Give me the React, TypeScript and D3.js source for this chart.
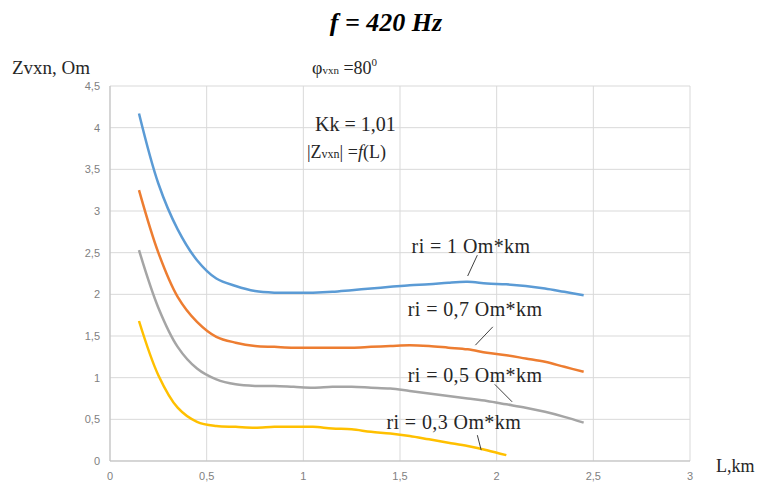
import React from "react";
import * as d3 from "d3";

const width = 760;
const height = 484;
const margin = { top: 86, right: 70, bottom: 23, left: 110 };

const lengths = [
  0.15, 0.25, 0.35, 0.45, 0.55, 0.65, 0.75, 0.85, 0.95, 1.05, 1.15, 1.25,
  1.35, 1.45, 1.55, 1.65, 1.75, 1.85, 1.95, 2.05, 2.15, 2.25, 2.35, 2.45,
];

const ri1 = [
  4.17, 3.33, 2.78, 2.41, 2.19, 2.1, 2.04, 2.02, 2.02, 2.02, 2.03, 2.05, 2.07,
  2.09, 2.11, 2.12, 2.14, 2.15, 2.13, 2.12, 2.1, 2.07, 2.03, 1.99,
];
const ri07 = [
  3.25, 2.5, 1.97, 1.67, 1.49, 1.42, 1.38, 1.37, 1.36, 1.36, 1.36, 1.36, 1.37,
  1.38, 1.39, 1.38, 1.36, 1.34, 1.3, 1.27, 1.23, 1.19, 1.13, 1.07,
];
const ri05 = [
  2.53, 1.84, 1.37, 1.11, 0.98, 0.92, 0.9, 0.9, 0.89, 0.88, 0.89, 0.89, 0.88,
  0.87, 0.84, 0.81, 0.78, 0.75, 0.72, 0.68, 0.64, 0.59, 0.53, 0.46,
];
const ri03 = [
  1.68, 1.03, 0.64, 0.47, 0.42, 0.41, 0.4, 0.41, 0.41, 0.41, 0.39, 0.38, 0.35,
  0.33, 0.3, 0.26, 0.22, 0.18, 0.13, 0.07,
];

const xTicks = [0, 0.5, 1, 1.5, 2, 2.5, 3];
const yTicks = [0, 0.5, 1, 1.5, 2, 2.5, 3, 3.5, 4, 4.5];

// label text, anchor [x, y], leader from/to, all in data units
const series = [
  { name: "ri = 1 Om*km", values: ri1, color: "#5b9bd5", label: [1.56, 2.5], leader: [[1.9, 2.47], [1.85, 2.22]] },
  { name: "ri = 0,7 Om*km", values: ri07, color: "#ed7d31", label: [1.54, 1.74], leader: [[1.98, 1.61], [1.89, 1.39]] },
  { name: "ri = 0,5 Om*km", values: ri05, color: "#a5a5a5", label: [1.54, 0.95], leader: [[1.99, 0.92], [2.08, 0.71]] },
  { name: "ri = 0,3 Om*km", values: ri03, color: "#ffc000", label: [1.43, 0.38], leader: [[1.9, 0.31], [1.92, 0.13]] },
];

const fmt = (d: number) => String(d).replace(".", ",");

export default function App() {
  const x = d3.scaleLinear().domain([0, 3]).range([margin.left, width - margin.right]);
  const y = d3.scaleLinear().domain([0, 4.5]).range([height - margin.bottom, margin.top]);

  const line = d3
    .line<number>()
    .x((_, i) => x(lengths[i]))
    .y((d) => y(d))
    .curve(d3.curveCatmullRom.alpha(0.5));

  const serif = "'Liberation Serif', 'Times New Roman', serif";
  const sans = "'Liberation Sans', Arial, sans-serif";

  return (
    <svg
      width={width}
      height={height}
      style={{ position: "absolute", left: 0, top: 0, background: "#fff" }}
    >
      {/* grid */}
      {yTicks.map((t) => (
        <line key={"gy" + t} x1={x(0)} x2={x(3)} y1={y(t)} y2={y(t)} stroke="#d9d9d9" strokeWidth={1} />
      ))}
      {xTicks.map((t) => (
        <line key={"gx" + t} x1={x(t)} x2={x(t)} y1={y(0)} y2={y(4.5)} stroke="#d9d9d9" strokeWidth={1} />
      ))}
      <line x1={x(0)} x2={x(0)} y1={y(0)} y2={y(4.5)} stroke="#bfbfbf" />
      <line x1={x(0)} x2={x(3)} y1={y(0)} y2={y(0)} stroke="#bfbfbf" />

      {/* tick labels */}
      {yTicks.map((t) => (
        <text key={"ty" + t} x={x(0) - 10} y={y(t)} dy="0.35em" textAnchor="end" fontFamily={sans} fontSize={11} fill="#7f7f7f">
          {fmt(t)}
        </text>
      ))}
      {xTicks.map((t) => (
        <text key={"tx" + t} x={x(t)} y={y(0) + 19} textAnchor="middle" fontFamily={sans} fontSize={11} fill="#7f7f7f">
          {fmt(t)}
        </text>
      ))}

      {/* series */}
      {series.map((s) => (
        <path key={s.name} d={line(s.values) || ""} fill="none" stroke={s.color} strokeWidth={2.5} />
      ))}

      {/* labels */}
      {series.map((s) => (
        <g key={"l" + s.name}>
          <line
            x1={x(s.leader[0][0])}
            y1={y(s.leader[0][1])}
            x2={x(s.leader[1][0])}
            y2={y(s.leader[1][1])}
            stroke="#404040"
            strokeWidth={1}
          />
          <text x={x(s.label[0])} y={y(s.label[1])} fontFamily={serif} fontSize={20} letterSpacing={0.4} fill="#262626">
            {s.name}
          </text>
        </g>
      ))}

      {/* titles */}
      <text x={386} y={31} textAnchor="middle" fontFamily={serif} fontSize={26} fontWeight="bold" fontStyle="italic" fill="#000">
        f = 420 Hz
      </text>
      <text x={12} y={74} fontFamily={serif} fontSize={19} fill="#262626">
        Zvxn, Om
      </text>
      <text x={312} y={74} fontFamily={serif} fontSize={18} fill="#262626">
        φ<tspan fontSize={11}>vxn</tspan> =80<tspan fontSize={11} dy={-8}>0</tspan>
      </text>
      <text x={315} y={131} fontFamily={serif} fontSize={20} fill="#262626">
        Kk = 1,01
      </text>
      <text x={307} y={158} fontFamily={serif} fontSize={18} fill="#262626">
        |Z<tspan fontSize={12}>vxn</tspan>| =<tspan fontStyle="italic">f</tspan>(L)
      </text>
      <text x={716} y={472} fontFamily={serif} fontSize={18} fill="#262626">
        L,km
      </text>
    </svg>
  );
}
